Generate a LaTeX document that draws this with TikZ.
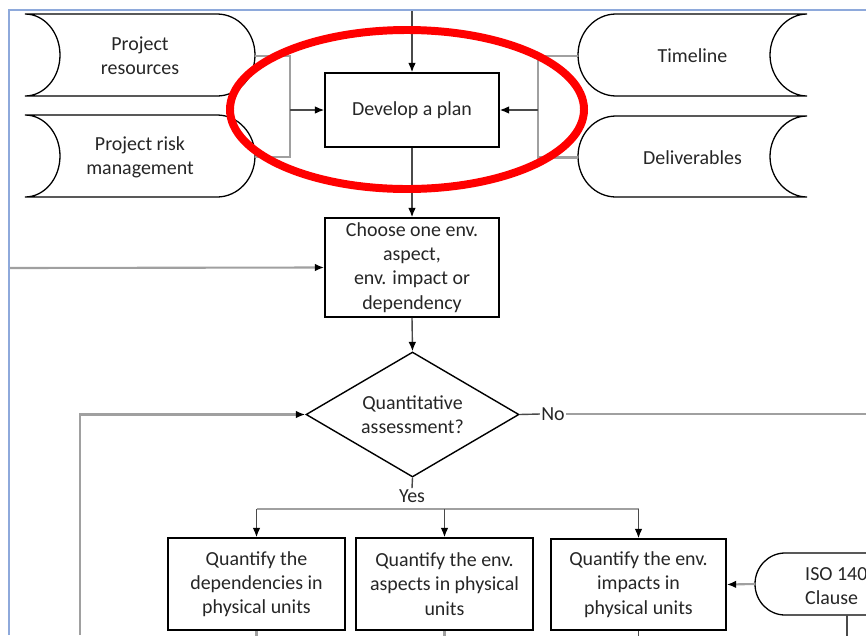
\documentclass[tikz,border=0pt]{standalone}
\usepackage{fontspec}
\setmainfont{Carlito}
\usetikzlibrary{shapes.geometric,arrows.meta}
\definecolor{frameblue}{HTML}{8EA9DB}
\definecolor{lightline}{HTML}{A0A0A0}
\definecolor{darkline}{HTML}{4A4A4A}
\definecolor{txt}{HTML}{262626}

% stored-data outline: concave left side, convex right side
\newcommand\drawstoreL[4]{%
  \draw[outline] (#1,#2) -- ({#3-38},#2)
    .. controls ({#3-17},#2) and (#3,{(#2+#4)/2-22.6}) .. (#3,{(#2+#4)/2})
    .. controls (#3,{(#2+#4)/2+22.6}) and ({#3-17},#4) .. ({#3-38},#4)
    -- (#1,#4)
    .. controls ({#1+19.3},#4) and ({#1+35},{(#2+#4)/2+22.6}) .. ({#1+35},{(#2+#4)/2})
    .. controls ({#1+35},{(#2+#4)/2-22.6}) and ({#1+19.3},#2) .. (#1,#2) -- cycle;}
% stored-data outline: convex left side, concave right side
\newcommand\drawstoreR[4]{%
  \draw[outline] (#3,#2) -- ({#1+38},#2)
    .. controls ({#1+17},#2) and (#1,{(#2+#4)/2-22.6}) .. (#1,{(#2+#4)/2})
    .. controls (#1,{(#2+#4)/2+22.6}) and ({#1+17},#4) .. ({#1+38},#4)
    -- (#3,#4)
    .. controls ({#3-19.3},#4) and ({#3-37},{(#2+#4)/2+22.6}) .. ({#3-37},{(#2+#4)/2})
    .. controls ({#3-37},{(#2+#4)/2-22.6}) and ({#3-19.3},#2) .. (#3,#2) -- cycle;}

\begin{document}
\begin{tikzpicture}[x=0.03cm,y=-0.03cm,
  font=\fontsize{17}{20.7}\selectfont, text=txt,
  box/.style={draw=black, line width=1.3pt, fill=white, align=center, inner sep=2pt},
  decision/.style={diamond, aspect=1.7, draw=black, line width=1.2pt, align=center, inner sep=0pt},
  store/.style={draw=none, align=center, inner sep=0pt},
  outline/.style={draw=black, line width=1.1pt},
  gline/.style={draw=lightline, line width=1.8pt},
  dline/.style={draw=darkline, line width=1.2pt},
  arr/.style={-{Latex[length=8pt,width=6.5pt,color=black]}},
  lbl/.style={inner sep=1pt},
]
\useasboundingbox (0,0) rectangle (866,635);
\clip (0,0) rectangle (866,635);
\fill[white] (0,0) rectangle (866,635);

% page frame
\draw[frameblue, line width=1.6pt] (9,635) -- (9,10) -- (866,10);

% stored-data inputs
\drawstoreL{25}{14}{255}{96}
\drawstoreL{25}{115}{255}{197}
\drawstoreR{578}{14}{807}{96}
\drawstoreR{578}{116}{807}{197}
\node[store, minimum width=6.9cm, minimum height=2.46cm] (res) at (140,56) {Project\\resources};
\node[store, minimum width=6.9cm, minimum height=2.46cm] (risk) at (140,157) {Project risk\\management};
\node[store, minimum width=6.87cm, minimum height=2.46cm] (tl) at (692.5,56) {Timeline};
\node[store, minimum width=6.87cm, minimum height=2.43cm] (dl) at (692.5,157.5) {Deliverables};

% ISO input on the right edge
\draw[outline] (900,553) -- (785,553)
  .. controls (768.4,553) and (755,567) .. (755,584)
  .. controls (755,601) and (768.4,615) .. (785,615) -- (900,615);
\node[store, anchor=west, align=left] (iso) at (805,586) {ISO 140\\Clause};
\coordinate (isoW) at (755,584);
\coordinate (isoS) at (847,615);

% process steps
\node[box, minimum width=5.22cm, minimum height=2.22cm] (plan) at (412,110) {\raisebox{-2pt}{Develop a plan}};
\node[box, minimum width=5.22cm, minimum height=2.97cm] (choose) at (412,267.5)
  {Choose one env.\\aspect,\\env. impact or\\dependency};
\node[decision, minimum width=6.39cm, minimum height=3.75cm] (q) at (412.5,414.5)
  {Quantitative\\assessment?};
\node[box, minimum width=5.31cm, minimum height=2.76cm] (dep) at (256.5,584)
  {Quantify the\\dependencies in\\physical units};
\node[box, minimum width=5.31cm, minimum height=2.76cm] (asp) at (444.5,584)
  {Quantify the env.\\aspects in physical\\units};
\node[box, minimum width=5.25cm, minimum height=2.73cm] (imp) at (638.5,584.5)
  {Quantify the env.\\impacts in\\physical units};

% inputs to the plan
\draw[gline] (res.east) -- ++(35,0) coordinate (lbr) |- (risk.east);
\draw[gline] (tl.west) -- ++(-40,0) coordinate (rbr) |- (dl.west);
\draw[dline, arr] (lbr |- plan.west) -- (plan.west);
\draw[dline, arr] (rbr |- plan.east) -- (plan.east);
\coordinate (topin) at (412,11);
\draw[dline, arr] (topin) -- (plan.north);

% main flow
\draw[dline, arr] (plan.south) -- (choose.north);
\coordinate (leftin) at (10,268);
\draw[gline, arr] (leftin) -- (choose.west);
\draw[dline, arr] (choose.south) -- (q.north);

% decision branches
\node[lbl] (no) at (553,414) {No};
\draw[dline] (q.east) -- (no.west);
\coordinate (noend) at (866,414);
\draw[gline] (no.east) -- (noend);
\coordinate (loop) at (80,635);
\draw[gline, arr] (loop) |- (q.west);

\node[lbl] (yes) at (412,496) {Yes};
\draw[dline] (q.south) -- (yes.north);
\coordinate (split) at (412,509);
\draw[gline] (dep.north |- split) -- (imp.north |- split);
\draw[dline, arr] (dep.north |- split) -- (dep.north);
\draw[dline, arr] (asp.north |- split) -- (asp.north);
\draw[dline, arr] (imp.north |- split) -- (imp.north);

\draw[gline, arr] (isoW) -- (imp.east);

% lines continuing below
\coordinate (depout) at (256.5,640);
\coordinate (aspout) at (444.5,640);
\coordinate (impout) at (638.5,640);
\coordinate (isoout) at (847,640);
\draw[gline] (dep.south) -- (depout);
\draw[gline] (asp.south) -- (aspout);
\draw[dline] (imp.south) -- (impout);
\draw[dline] (isoS) -- (isoout);

% highlight round the planning step
\draw[red, line width=6.8pt] (407,109.5) ellipse [x radius=5.31cm, y radius=2.385cm];
\end{tikzpicture}
\end{document}
